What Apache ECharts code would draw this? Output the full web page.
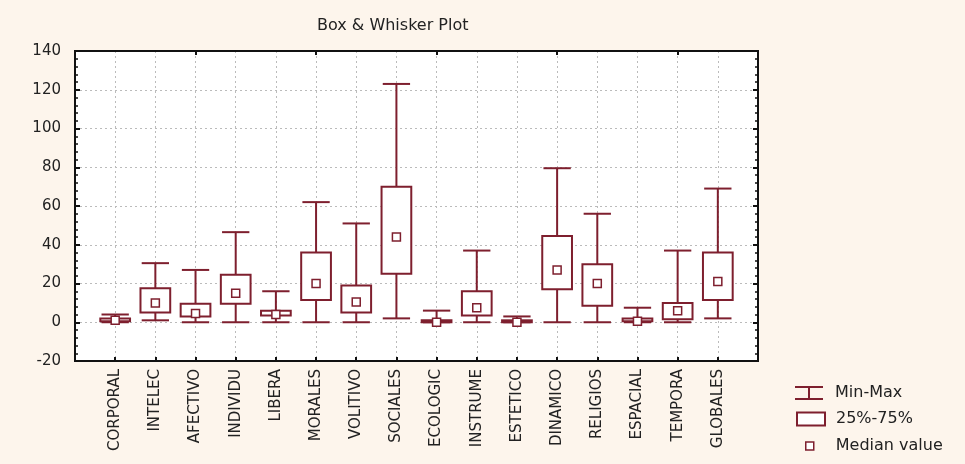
<!DOCTYPE html>
<html>
<head>
<meta charset="utf-8">
<script src="https://cdn.jsdelivr.net/npm/echarts@6/dist/echarts.min.js"></script>
<style>
  html, body { margin: 0; padding: 0; background: #fdf5ec; }
  #chart { width: 965px; height: 464px; }
</style>
</head>
<body>
<div id="chart"></div>
<script>
// variables, in plot order
const categories = ["CORPORAL", "INTELEC", "AFECTIVO", "INDIVIDU", "LIBERA", "MORALES", "VOLITIVO", "SOCIALES",
  "ECOLOGIC", "INSTRUME", "ESTETICO", "DINAMICO", "RELIGIOS", "ESPACIAL", "TEMPORA", "GLOBALES"];
const minValues = [0, 1, 0, 0, 0, 0, 0, 2, 0, 0, 0, 0, 0, 0, 0, 2];
const maxValues = [4, 30.5, 27, 46.5, 16, 62, 51, 123, 6, 37, 3, 79.5, 56, 7.5, 37, 69];
const q1Values = [0.5, 5, 3, 9.5, 3.5, 11.5, 5, 25, 0, 3.5, 0, 17, 8.5, 0.5, 1.5, 11.5];
const q3Values = [2, 17.5, 9.5, 24.5, 6, 36, 19, 70, 1, 16, 1, 44.5, 30, 2, 10, 36];
const medianValues = [1, 10, 4.5, 15, 4, 20, 10.5, 44, 0, 7.5, 0, 27, 20, 0.5, 6, 21];
const yTicks = { min: -20, max: 140, step: 20 };

const maroon = "#7e1f2e";
const axisFont = "DejaVu Sans";

// empty slot at each end so the variables sit one step in from the frame
const axisCats = [""].concat(categories, [""]);

const whiskerData = categories.map((c, i) => [i + 1, minValues[i], maxValues[i]]);
const boxData = categories.map((c, i) => [i + 1, q1Values[i], q3Values[i]]);
const medianData = categories.map((c, i) => [i + 1, medianValues[i]]);

let chartMy = echarts.init(document.getElementById("chart"));

const legendText = { fontFamily: axisFont, fontSize: 16, color: "#222" };

let option = {
  backgroundColor: "#fdf5ec",
  animation: false,
  title: {
    text: "Box & Whisker Plot",
    left: 312,
    top: 13,
    textStyle: { fontFamily: axisFont, fontSize: 16, fontWeight: "normal", color: "#222" },
  },
  grid: {
    left: 75, top: 51, right: 207, bottom: 103,
    show: true,
    backgroundColor: "#ffffff",
    borderColor: "#111",
    borderWidth: 2,
  },
  legend: [
    {
      data: [{ name: "Min-Max", icon: "path://M0,0h28v2h-28z M13,2h2v10h-2z M0,12h28v2h-28z" }],
      left: 790, top: 380, itemWidth: 28, itemHeight: 14,
      itemStyle: { color: maroon },
      textStyle: Object.assign({ padding: [0, 0, 0, 7] }, legendText),
    },
    {
      data: [{ name: "25%-75%", icon: "rect" }],
      left: 791, top: 406, itemWidth: 28, itemHeight: 13,
      itemStyle: { color: "#fff", borderColor: maroon, borderWidth: 2 },
      textStyle: Object.assign({ padding: [0, 0, 0, 6] }, legendText),
    },
    {
      data: [{ name: "Median value", icon: "rect" }],
      left: 800, top: 433, itemWidth: 8, itemHeight: 8,
      itemStyle: { color: "#fff", borderColor: maroon, borderWidth: 1.5 },
      textStyle: Object.assign({ padding: [0, 0, 0, 17] }, legendText),
    },
  ],
  xAxis: [
    {
      type: "category",
      data: axisCats,
      boundaryGap: false,
      position: "bottom",
      axisLine: { show: true, onZero: false, lineStyle: { color: "#111", width: 2 } },
      axisTick: { show: true, inside: true, length: 4, lineStyle: { color: "#111", width: 2 } },
      axisLabel: {
        interval: 0, rotate: 90, margin: 8,
        fontFamily: axisFont, fontSize: 15, color: "#222",
      },
      splitLine: { show: true, lineStyle: { color: "#bbb", type: [2, 3], width: 1 } },
    },
    {
      type: "category",
      data: axisCats,
      boundaryGap: false,
      position: "top",
      axisLine: { show: true, onZero: false, lineStyle: { color: "#111", width: 2 } },
      axisTick: { show: true, inside: true, length: 4, lineStyle: { color: "#111", width: 2 } },
      axisLabel: { show: false },
      splitLine: { show: false },
    },
  ],
  yAxis: [
    {
      type: "value",
      min: yTicks.min, max: yTicks.max, interval: yTicks.step,
      position: "left",
      axisLine: { show: true, onZero: false, lineStyle: { color: "#111", width: 2 } },
      axisTick: { show: true, inside: true, length: 5, lineStyle: { color: "#111", width: 2 } },
      minorTick: { show: true, splitNumber: 5, length: 3, lineStyle: { color: "#111", width: 1.5 } },
      axisLabel: { margin: 14, fontFamily: axisFont, fontSize: 15, color: "#222" },
      splitLine: { show: true, lineStyle: { color: "#bbb", type: [2, 3], width: 1 } },
    },
    {
      type: "value",
      min: yTicks.min, max: yTicks.max, interval: yTicks.step,
      position: "right",
      axisLine: { show: true, onZero: false, lineStyle: { color: "#111", width: 2 } },
      axisTick: { show: true, inside: true, length: 5, lineStyle: { color: "#111", width: 2 } },
      minorTick: { show: true, splitNumber: 5, length: 3, lineStyle: { color: "#111", width: 1.5 } },
      axisLabel: { show: false },
      splitLine: { show: false },
    },
  ],
  series: [
    {
      name: "Min-Max",
      type: "custom",
      xAxisIndex: 0, yAxisIndex: 0,
      data: whiskerData,
      z: 2,
      renderItem: function (params, api) {
        const x = api.value(0);
        const lo = api.coord([x, api.value(1)]);
        const hi = api.coord([x, api.value(2)]);
        const half = api.size([1, 0])[0] * 0.34;
        const st = { stroke: maroon, lineWidth: 2, fill: null };
        return {
          type: "group",
          children: [
            { type: "line", shape: { x1: lo[0], y1: lo[1], x2: hi[0], y2: hi[1] }, style: st },
            { type: "line", shape: { x1: lo[0] - half, y1: lo[1], x2: lo[0] + half, y2: lo[1] }, style: st },
            { type: "line", shape: { x1: hi[0] - half, y1: hi[1], x2: hi[0] + half, y2: hi[1] }, style: st },
          ],
        };
      },
    },
    {
      name: "25%-75%",
      type: "custom",
      xAxisIndex: 0, yAxisIndex: 0,
      data: boxData,
      z: 3,
      renderItem: function (params, api) {
        const x = api.value(0);
        const lo = api.coord([x, api.value(1)]);
        const hi = api.coord([x, api.value(2)]);
        const half = api.size([1, 0])[0] * 0.37;
        return {
          type: "rect",
          shape: { x: lo[0] - half, y: hi[1], width: half * 2, height: Math.max(lo[1] - hi[1], 1) },
          style: { stroke: maroon, lineWidth: 2, fill: "#ffffff" },
        };
      },
    },
    {
      name: "Median value",
      type: "scatter",
      xAxisIndex: 0, yAxisIndex: 0,
      data: medianData,
      symbol: "rect",
      symbolSize: 8,
      z: 4,
      itemStyle: { color: "#ffffff", borderColor: maroon, borderWidth: 1.5, opacity: 1 },
    },
  ],
};

option && chartMy.setOption(option);
window.addEventListener("resize", () => chartMy.resize());
</script>
</body>
</html>
